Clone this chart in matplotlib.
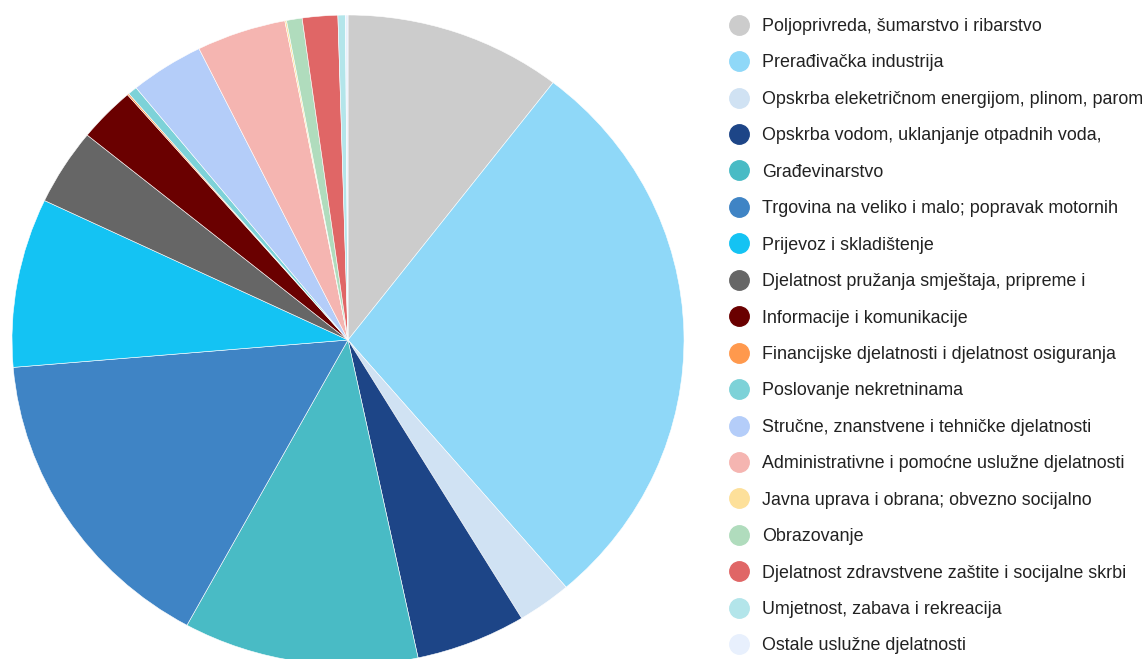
import matplotlib
matplotlib.use("Agg")
import matplotlib.pyplot as plt
from matplotlib.lines import Line2D

plt.rcParams['font.family'] = ['Liberation Sans', 'DejaVu Sans']

labels = [
    'Poljoprivreda, šumarstvo i ribarstvo',
    'Prerađivačka industrija',
    'Opskrba eleketričnom energijom, plinom, parom',
    'Opskrba vodom, uklanjanje otpadnih voda,',
    'Građevinarstvo',
    'Trgovina na veliko i malo; popravak motornih',
    'Prijevoz i skladištenje',
    'Djelatnost pružanja smještaja, pripreme i',
    'Informacije i komunikacije',
    'Financijske djelatnosti i djelatnost osiguranja',
    'Poslovanje nekretninama',
    'Stručne, znanstvene i tehničke djelatnosti',
    'Administrativne i pomoćne uslužne djelatnosti',
    'Javna uprava i obrana; obvezno socijalno',
    'Obrazovanje',
    'Djelatnost zdravstvene zaštite i socijalne skrbi',
    'Umjetnost, zabava i rekreacija',
    'Ostale uslužne djelatnosti',
]
shares = [10.45, 28.3, 2.6, 5.3, 11.3, 15.7, 8.4, 3.8, 2.75, 0.08,
          0.45, 3.55, 4.3, 0.08, 0.75, 1.7, 0.36, 0.12]
colors = ['#cccccc', '#8fd8f8', '#d0e2f3', '#1d4587', '#49bbc5', '#3f84c5',
          '#14c3f3', '#666666', '#6a0000', '#ff994d', '#7dd2d8', '#b4cdf9',
          '#f5b5b1', '#fde09a', '#b0dcbd', '#e06666', '#b3e5ea', '#e8f0fd']

W, H = 1142, 659
fig = plt.figure(figsize=(W / 100, H / 100), dpi=100)

# pie is slightly wider than tall in the reference
cx, cy, rx, ry = 348, 340, 336, 325
ax = fig.add_axes([(cx - rx) / W, (H - cy - ry) / H, 2 * rx / W, 2 * ry / H])
ax.pie(shares, colors=colors, startangle=90, counterclock=False,
       wedgeprops=dict(edgecolor='white', linewidth=0.4))
ax.set_aspect('auto')
ax.set_xlim(-1, 1)
ax.set_ylim(-1, 1)
ax.axis('off')

handles = [Line2D([], [], linestyle='none', marker='o', markersize=14,
                  markerfacecolor=c, markeredgecolor=c) for c in colors]
fig.legend(handles, labels, loc='upper left', bbox_to_anchor=(731 / W, 1 - 18 / H),
           frameon=False, fontsize=12.9, labelcolor='#222222',
           labelspacing=1.085, handlelength=0.9, handletextpad=0.85,
           borderaxespad=0, borderpad=0)

fig.savefig('out.png', dpi=100)
